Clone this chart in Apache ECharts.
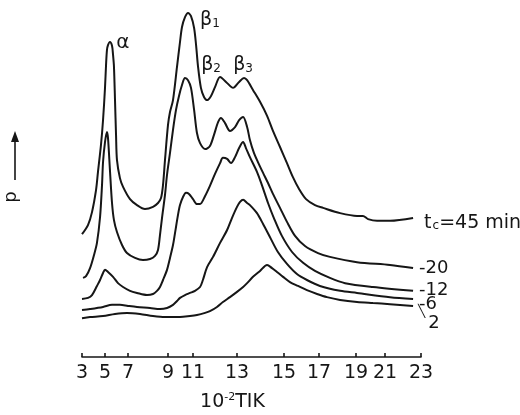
<!DOCTYPE html>
<html><head><meta charset="utf-8">
<script src="https://cdn.jsdelivr.net/npm/echarts@6/dist/echarts.min.js"></script>
<style>html,body{margin:0;padding:0;background:#fff}#c{width:520px;height:415px}</style>
</head><body><div id="c"></div>
<script>
// x-axis tick labels (10^-2 T/K) and the uneven spacing of the hand-drawn ticks (relative units)
const tickLabels = [3, 5, 7, 9, 11, 13, 15, 17, 19, 21, 23];
const tickSpacing = [0, 23, 46, 86, 111, 155, 202, 237, 274, 303, 339];

// curve t_c = 45 min
const x45 = [3.00,3.52,3.87,4.22,4.39,4.65,4.83,5.00,5.09,5.17,5.26,5.43,5.61,5.70,5.78,5.87,5.96,6.04,6.30,6.57,7.10,7.45,7.85,8.25,8.50,8.65,8.75,8.85,9.00,9.16,9.40,9.72,9.96,10.12,10.36,10.60,10.84,11.05,11.14,11.23,11.36,11.50,11.64,11.82,12.00,12.23,12.50,12.82,13.09,13.30,13.43,13.68,13.98,14.28,14.53,14.83,15.17,15.51,15.86,16.26,16.77,17.22,18.14,19.07,19.48,19.83,20.45,21.28,22.56];
const p45 = [35.1,37.7,41.4,47.7,52.9,60.6,67.7,76.9,83.4,87.7,89.1,90.0,88.9,86.3,82.9,73.4,63.4,56.3,51.1,48.6,45.1,43.4,42.3,42.9,44.0,45.4,49.1,56.3,66.3,70.0,73.4,82.9,90.0,94.3,97.1,98.3,97.4,94.0,89.1,82.9,76.9,74.3,73.4,74.6,77.1,80.0,78.6,76.9,78.6,79.7,79.1,76.3,72.9,68.9,64.6,60.0,55.4,51.4,48.0,45.1,43.4,42.6,41.1,40.3,40.3,39.4,38.9,38.9,39.7];
// curve 20 min
const x20 = [3.09,3.35,3.70,4.04,4.30,4.57,4.74,4.83,5.00,5.17,5.26,5.43,5.61,5.78,6.04,6.48,6.91,7.35,7.75,8.10,8.35,8.50,8.60,8.70,8.85,8.95,9.16,9.40,9.64,9.88,10.12,10.36,10.60,10.84,11.05,11.18,11.32,11.55,11.77,11.95,12.14,12.27,12.45,12.68,12.91,13.09,13.26,13.43,13.55,13.72,13.89,14.11,14.32,14.53,14.83,15.17,15.63,16.20,16.94,17.59,19.07,21.28,22.56];
const p20 = [22.6,23.1,25.4,29.1,32.6,40.0,49.1,55.7,61.4,64.3,62.6,53.4,44.0,39.1,35.7,32.0,29.7,28.3,27.7,28.0,28.9,30.6,34.9,39.7,46.3,52.0,58.3,64.9,70.6,74.6,77.7,79.7,79.1,76.9,70.6,64.0,61.1,59.4,60.3,63.4,67.1,68.3,66.9,64.6,65.7,67.7,68.6,65.7,62.0,58.3,55.7,52.6,49.7,46.6,42.6,38.6,34.6,31.7,29.7,28.6,27.1,26.3,25.4];
// curve 12 min
const x12 = [3.00,3.52,3.87,4.30,4.57,4.83,5.00,5.26,5.70,6.13,6.57,7.10,7.45,7.95,8.25,8.45,8.60,8.75,8.95,9.16,9.40,9.56,9.80,9.96,10.20,10.44,10.68,11.00,11.18,11.32,11.55,11.77,12.00,12.23,12.36,12.55,12.73,12.91,13.09,13.26,13.38,13.55,13.85,14.06,14.32,14.57,14.91,15.46,16.09,16.77,17.59,18.41,20.17,22.56];
const p12 = [16.6,16.9,17.7,20.3,22.0,24.0,24.9,24.3,22.9,21.1,20.0,18.9,18.3,17.7,18.0,18.9,20.0,22.0,24.9,28.3,32.0,35.4,40.6,43.4,45.7,46.9,46.6,45.1,43.7,43.7,46.0,48.9,52.3,55.4,56.9,56.6,55.4,57.1,59.7,61.4,59.7,57.1,52.9,49.1,44.0,39.7,34.6,30.0,26.9,24.6,22.6,21.1,20.0,18.9];
// curve 6 min
const x6 = [3.00,3.70,4.83,5.61,6.30,7.00,7.45,8.10,8.60,8.95,9.40,9.72,9.96,10.36,10.76,11.09,11.32,11.45,11.64,11.91,12.23,12.55,12.77,13.00,13.13,13.26,13.43,13.55,13.85,14.11,14.40,14.74,15.17,15.74,16.31,17.05,18.14,19.07,21.28,22.56];
const p6 = [13.4,13.7,14.3,14.9,14.9,14.6,14.3,14.0,13.7,14.0,14.9,16.0,16.9,17.7,18.3,18.9,20.0,22.0,25.7,28.6,32.6,36.3,39.7,42.9,44.3,44.9,44.0,43.4,41.1,38.0,34.3,30.0,26.6,23.7,22.0,20.3,18.9,18.3,17.1,16.6];
// curve 2 min
const x2 = [3.00,3.70,4.83,5.87,6.91,7.60,8.25,8.85,9.96,10.76,11.18,11.55,11.77,12.09,12.36,12.68,13.00,13.26,13.43,13.68,13.98,14.28,14.49,14.70,14.96,15.34,15.80,16.31,16.89,17.43,18.14,19.07,20.17,21.28,22.56];
const p2 = [11.1,11.4,11.7,12.3,12.6,12.3,11.7,11.4,11.4,11.7,12.0,12.6,13.1,14.3,15.7,17.1,18.6,20.0,21.1,22.9,24.6,26.3,25.4,24.3,22.9,21.4,20.3,19.1,18.0,17.1,16.3,15.7,15.4,15.1,14.6];

// peak annotations on the 45 min curve
const peakNames = ['α', 'β1', 'β2', 'β3'];
const peakX = [5.43, 10.60, 12.23, 13.30];
const peakP = [90.0, 98.3, 80.0, 79.7];

const INK = '#161616';
const FONT = 'DejaVu Sans';

// map a 10^-2 T/K value onto the unevenly spaced hand-drawn axis
function warp(t) {
  for (let i = 0; i < tickLabels.length - 1; i++) {
    if (t <= tickLabels[i + 1] || i === tickLabels.length - 2) {
      const f = (t - tickLabels[i]) / (tickLabels[i + 1] - tickLabels[i]);
      return tickSpacing[i] + f * (tickSpacing[i + 1] - tickSpacing[i]);
    }
  }
}
const pts = (xs, ps) => xs.map((t, i) => [warp(t), ps[i]]);

const chart = echarts.init(document.getElementById('c'), null, {renderer: 'canvas'});

function curve(name, xs, ps, fmt, off, dist, rich) {
  return {
    type: 'line', name: name, data: pts(xs, ps), symbol: 'none',
    smooth: 0.3, silent: true,
    lineStyle: {color: INK, width: 2},
    endLabel: {show: true, formatter: fmt, distance: dist, offset: off,
      color: INK, fontFamily: FONT, fontSize: 18, rich: rich || {}}
  };
}

const peakOffsets = [[13, 1], [22, 7], [-9, -12], [-1, -13]];
const s45 = curve('45', x45, p45, '{t|t}{c|c}{t|=45 min}', [0, 5], 11, {
  t: {fontSize: 19, fontFamily: FONT, color: INK},
  c: {fontSize: 12, fontFamily: FONT, color: INK, padding: [6, 0, 0, 1]}
});
s45.markPoint = {
  symbol: 'circle', symbolSize: 0, silent: true,
  data: peakNames.map((n, i) => ({
    coord: [warp(peakX[i]), peakP[i]], value: n,
    label: {offset: peakOffsets[i]}
  })),
  label: {
    show: true, position: 'inside', color: INK,
    formatter: (d) => d.value.length > 1 ? '{b|' + d.value[0] + '}{s|' + d.value.slice(1) + '}' : '{a|' + d.value + '}',
    rich: {
      a: {fontSize: 20, fontFamily: FONT, color: INK},
      b: {fontSize: 19, fontFamily: FONT, color: INK},
      s: {fontSize: 12, fontFamily: FONT, color: INK, padding: [7, 0, 0, 0]}
    }
  }
};

chart.setOption({
  animation: false,
  backgroundColor: '#ffffff',
  grid: {left: 82, right: 99, top: 7, bottom: 58, outerBoundsMode: 'none', containLabel: false},
  xAxis: {
    type: 'value', min: 0, max: tickSpacing[tickSpacing.length - 1],
    name: '{n|10}{s|-2}{n|TIK}', nameLocation: 'middle', nameGap: 35,
    nameTextStyle: {padding: [0, 38, 0, 0], rich: {
      n: {fontSize: 19, fontFamily: FONT, color: INK},
      s: {fontSize: 11, fontFamily: FONT, color: INK, padding: [0, 0, 10, 0]}
    }},
    axisLine: {show: true, lineStyle: {color: INK, width: 1.6}},
    axisTick: {show: true, inside: true, length: 4, lineStyle: {color: INK, width: 1.6}, customValues: tickSpacing},
    axisLabel: {show: true, customValues: tickSpacing, margin: 7, color: INK, fontFamily: FONT, fontSize: 19,
      formatter: (v) => String(tickLabels[tickSpacing.indexOf(Math.round(v))])},
    splitLine: {show: false}
  },
  yAxis: {
    type: 'value', min: 0, max: 100,
    name: 'p', nameLocation: 'middle', nameRotate: 90, nameGap: 62,
    nameTextStyle: {fontSize: 18, fontFamily: FONT, color: INK, padding: [0, 30, 0, 0]},
    axisLine: {show: false}, axisTick: {show: false}, axisLabel: {show: false}, splitLine: {show: false}
  },
  graphic: [
    {type: 'line', shape: {x1: 15, y1: 180, x2: 15, y2: 138}, style: {stroke: INK, lineWidth: 1.6}},
    {type: 'polygon', shape: {points: [[11, 142], [15, 131], [19, 142]]}, style: {fill: INK}}
  ],
  series: [
    s45,
    curve('20', x20, p20, '-20', [0, 0], 6),
    curve('12', x12, p12, '-12', [0, -1], 6),
    curve('6', x6, p6, '-6', [0, 5], 6),
    curve('2', x2, p2, '{d|\u2572}{n|2}', [1, 12], 4, {
      d: {fontSize: 12, fontFamily: FONT, color: INK, padding: [0, 0, 12, 0]},
      n: {fontSize: 18, fontFamily: FONT, color: INK, padding: [10, 0, 0, 3]}
    })
  ]
});
</script></body></html>
